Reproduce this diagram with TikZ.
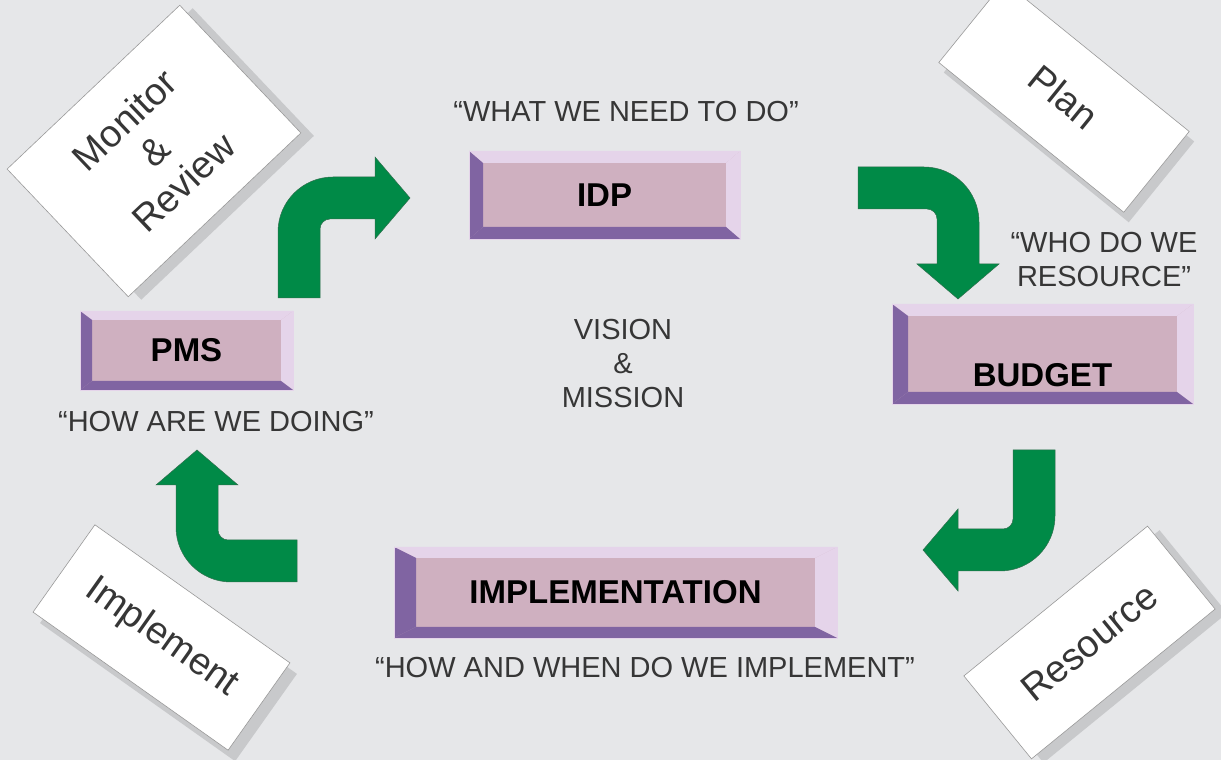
\documentclass[tikz,border=0pt]{standalone}
\usepackage{fontspec}
\setmainfont{Liberation Sans}
\usetikzlibrary{shadows}
\definecolor{Paper}{HTML}{E6E7E9}
\definecolor{Face}{HTML}{CFB0C0}
\definecolor{BevelLight}{HTML}{E5D4EA}
\definecolor{BevelDark}{HTML}{8064A2}
\definecolor{Leaf}{HTML}{008A47}
\definecolor{LeafEdge}{HTML}{2F6E4C}
\definecolor{Ink}{HTML}{363636}
\definecolor{Shade}{HTML}{C8C9CB}

\tikzset{
  boxtext/.style={font=\bfseries\fontsize{33}{38}\selectfont},
  bevelbox/.style 2 args={fill=Face, draw=BevelLight, line width=0.6pt, inner sep=0pt, boxtext,
    path picture={
      \fill[BevelLight] (path picture bounding box.north west) -- (path picture bounding box.north east)
        -- ([shift={(-#1,-#2)}]path picture bounding box.north east) -- ([shift={(#1,-#2)}]path picture bounding box.north west) -- cycle;
      \fill[BevelLight] (path picture bounding box.north east) -- (path picture bounding box.south east)
        -- ([shift={(-#1,#2)}]path picture bounding box.south east) -- ([shift={(-#1,-#2)}]path picture bounding box.north east) -- cycle;
      \fill[BevelDark] (path picture bounding box.south west) -- (path picture bounding box.south east)
        -- ([shift={(-#1,#2)}]path picture bounding box.south east) -- ([shift={(#1,#2)}]path picture bounding box.south west) -- cycle;
      \fill[BevelDark] (path picture bounding box.north west) -- (path picture bounding box.south west)
        -- ([shift={(#1,#2)}]path picture bounding box.south west) -- ([shift={(#1,-#2)}]path picture bounding box.north west) -- cycle;
    }},
  card/.style 2 args={fill=white, draw=gray!80, line width=0.6pt, text=Ink, align=center,
    font=\fontsize{38}{43}\selectfont, drop shadow={shadow xshift=#1pt, shadow yshift=#2pt, fill=Shade, opacity=1}},
  saying/.style={text=Ink, align=center, font=\fontsize{29}{34}\selectfont},
  bentarrow/.pic={
    \fill[Leaf, draw=LeafEdge, line width=0.5pt] (0,0) -- (0,66) arc[start angle=180, end angle=90, radius=55]
      -- (97,121) -- (97,141) -- (132,100) -- (97,59) -- (97,79) -- (52,79)
      arc[start angle=90, end angle=180, radius=10] -- (42,0) -- cycle;
  }
}

\begin{document}
\begin{tikzpicture}[x=1pt,y=1pt]
  \useasboundingbox (0,0) rectangle (1221,760);
  \fill[Paper] (0,0) rectangle (1221,760);

  % corner cards
  \node[card={13}{-3}, rotate=43.5, minimum width=238pt, minimum height=176pt] (monitor) at (154,609) {Monitor\\\&\\Review};
  \node[card={5}{-10}, rotate=-39, minimum width=238pt, minimum height=104pt] (plan) at (1064,663) {Plan};
  \node[card={7}{-11}, rotate=-35.3, minimum width=239pt, minimum height=107pt] (implement) at (161.5,122.5) {Implement};
  \node[card={12}{-4}, rotate=39.2, minimum width=237pt, minimum height=107pt] (resource) at (1089.5,117.5) {Resource};

  % green turning arrows
  \pic at (278,462) {bentarrow};
  \pic[rotate=-90] at (858,593) {bentarrow};
  \pic[rotate=180] at (1055,310) {bentarrow};
  \pic[rotate=90] at (297,178) {bentarrow};

  % bevelled boxes
  \node[bevelbox={14}{12}, minimum width=271pt, minimum height=88pt] (idp) at (604.5,565) {IDP};
  \node[bevelbox={16}{12}, minimum width=301pt, minimum height=100pt,
    label={[boxtext, yshift=-21pt]center:BUDGET}] (budget) at (1042.5,406) {};
  \node[bevelbox={12}{9}, minimum width=213pt, minimum height=79pt] (pms) at (186.5,409.5) {PMS};
  \node[bevelbox={22}{11}, minimum width=443pt, minimum height=91pt] (impl) at (615.5,167.5) {IMPLEMENTATION};

  % sayings
  \node[saying] (needtext) at (626,648) {“WHAT WE NEED TO DO”};
  \node[saying] (whotext) at (1104,500) {“WHO DO WE\\RESOURCE”};
  \node[saying] (doingtext) at (216,338) {“HOW ARE WE DOING”};
  \node[saying] (whentext) at (645,92) {“HOW AND WHEN DO WE IMPLEMENT”};
  \node[saying] (vision) at (623,396) {VISION\\\&\\MISSION};
\end{tikzpicture}
\end{document}
